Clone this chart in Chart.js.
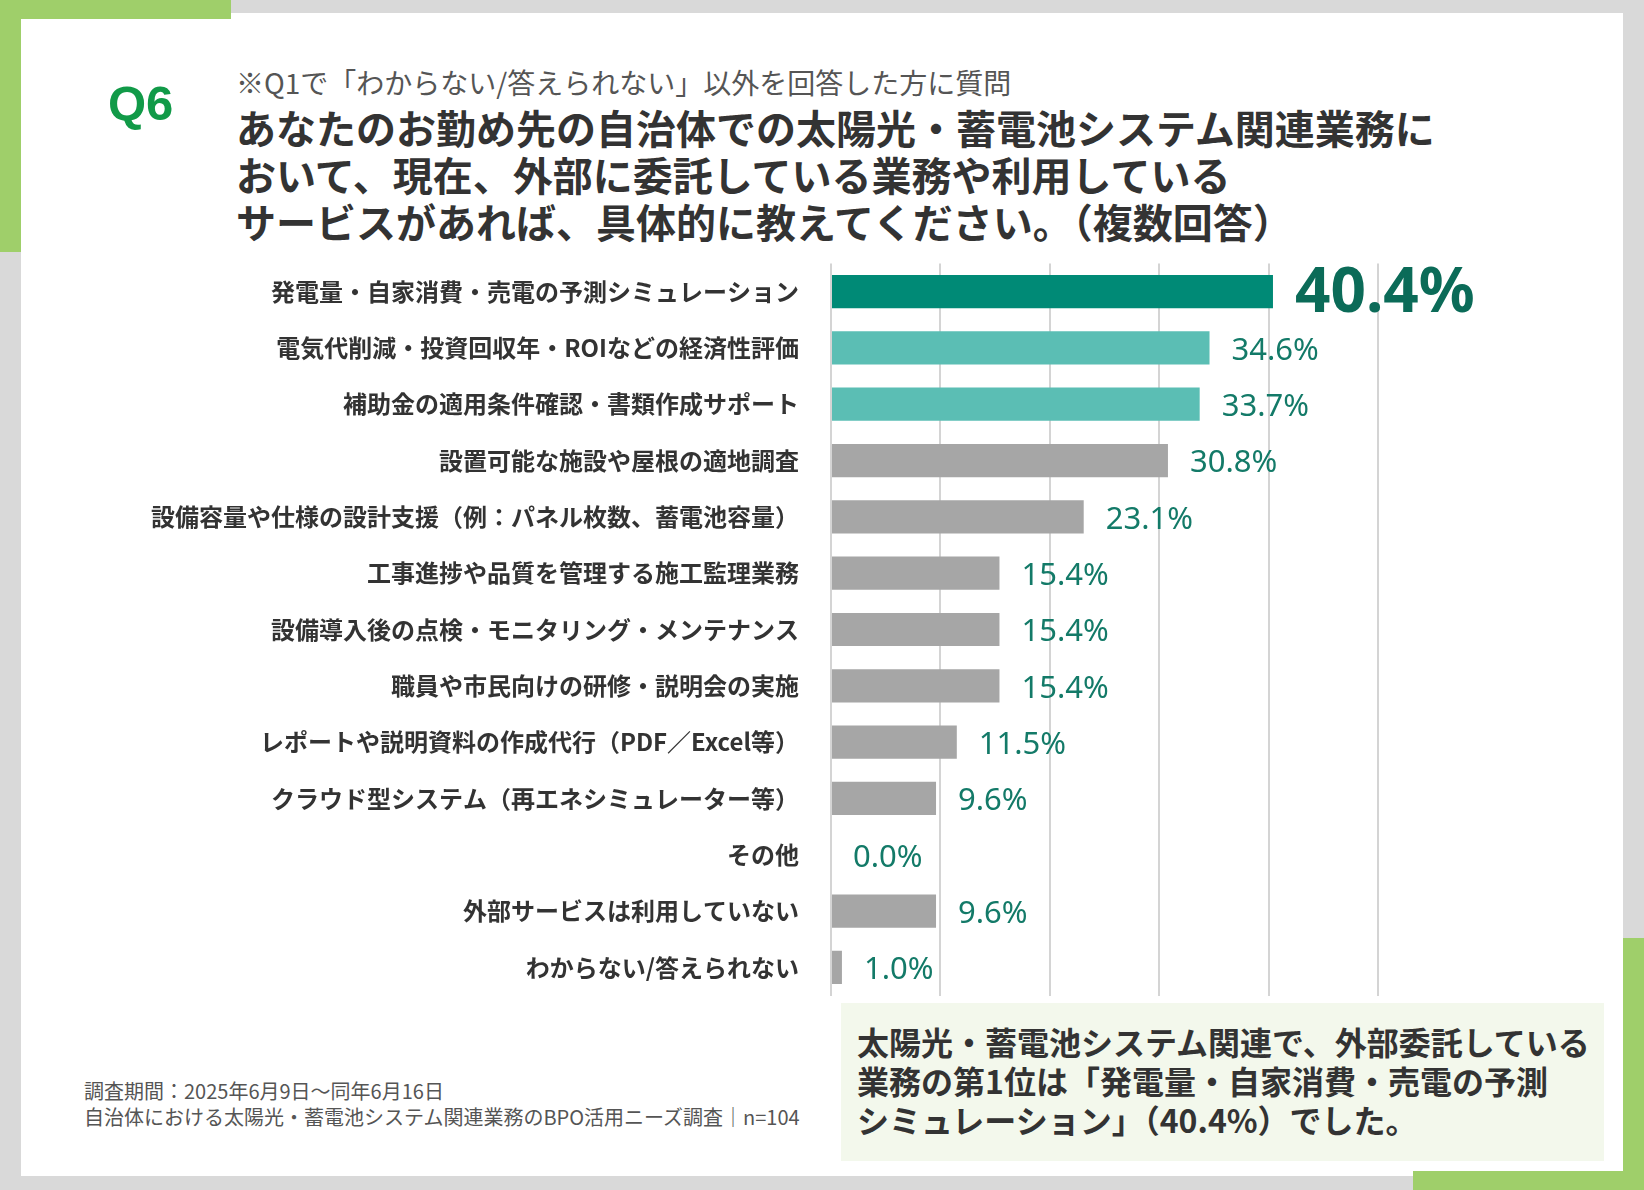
<!DOCTYPE html>
<html><head><meta charset="utf-8">
<script src="https://cdn.jsdelivr.net/npm/chart.js@4.4.0/dist/chart.umd.min.js"></script>
<style>
body{margin:0;width:1644px;height:1190px;background:#d9d9d9;position:relative;overflow:hidden;font-family:"Noto Sans CJK JP","Noto Sans",sans-serif;}
.abs{position:absolute;}
#card{left:21px;top:13px;width:1602px;height:1163px;background:#fff;}
.g{background:#9fcf6a;}
.t{color:#333;font-weight:bold;font-size:40px;line-height:47px;white-space:nowrap;}
</style></head><body>
<div id="card" class="abs"></div>
<div class="abs g" style="left:0;top:0;width:231px;height:19px"></div>
<div class="abs g" style="left:0;top:0;width:21px;height:252px"></div>
<div class="abs g" style="left:1623px;top:938px;width:21px;height:252px"></div>
<div class="abs g" style="left:1413px;top:1171px;width:231px;height:19px"></div>
<div class="abs" style="left:108px;top:75px;font:bold 49px 'Liberation Sans',Arial,sans-serif;color:#119a48">Q6</div>
<div class="abs" style="left:236px;top:62px;font-size:28px;color:#555;white-space:nowrap">※Q1で「わからない/答えられない」以外を回答した方に質問</div>
<div class="abs t" style="left:236px;top:104px">あなたのお勤め先の自治体での太陽光・蓄電池システム関連業務に<br>おいて、現在、外部に委託している業務や利用している<br>サービスがあれば、具体的に教えてください。（複数回答）</div>
<div class="abs" style="left:84px;top:1078px;font-size:20px;line-height:26px;color:#555;white-space:nowrap">調査期間：2025年6月9日～同年6月16日<br>自治体における太陽光・蓄電池システム関連業務のBPO活用ニーズ調査｜n=104</div>
<div class="abs" style="left:841px;top:1003px;width:763px;height:158px;background:#f3f8ec"></div>
<div class="abs" style="left:857px;top:1022px;font-size:32px;font-weight:bold;line-height:39px;color:#333;white-space:nowrap">太陽光・蓄電池システム関連で、外部委託している<br>業務の第1位は「発電量・自家消費・売電の予測<br>シミュレーション」（40.4%）でした。</div>
<div class="abs" style="left:0;top:225px;width:1644px;height:809px"><canvas id="c"></canvas></div>
<script>
const categories = [
  "発電量・自家消費・売電の予測シミュレーション",
  "電気代削減・投資回収年・ROIなどの経済性評価",
  "補助金の適用条件確認・書類作成サポート",
  "設置可能な施設や屋根の適地調査",
  "設備容量や仕様の設計支援（例：パネル枚数、蓄電池容量）",
  "工事進捗や品質を管理する施工監理業務",
  "設備導入後の点検・モニタリング・メンテナンス",
  "職員や市民向けの研修・説明会の実施",
  "レポートや説明資料の作成代行（PDF／Excel等）",
  "クラウド型システム（再エネシミュレーター等）",
  "その他",
  "外部サービスは利用していない",
  "わからない/答えられない"
];
const values = [40.4, 34.6, 33.7, 30.8, 23.1, 15.4, 15.4, 15.4, 11.5, 9.6, 0.0, 9.6, 1.0];
const barColors = values.map((v, i) => i == 0 ? "#008a76" : (i < 3 ? "#5bbeb4" : "#a6a6a6"));

const labelPlugin = {
  id: "vals",
  afterDatasetsDraw(chart) {
    const ctx = chart.ctx;
    const meta = chart.getDatasetMeta(0);
    ctx.save();
    ctx.textBaseline = "middle";
    meta.data.forEach((bar, i) => {
      if (i == 0) {
        ctx.font = "bold 62px 'Noto Sans', sans-serif";
        ctx.fillStyle = "#0b6b58";
      } else {
        ctx.font = "31px 'Noto Sans', sans-serif";
        ctx.fillStyle = "#137a68";
      }
      ctx.fillText(values[i].toFixed(1) + "%", bar.x + 22, bar.y + 3);
    });
    ctx.restore();
  }
};

new Chart(document.getElementById("c"), {
  type: "bar",
  data: {
    labels: categories,
    datasets: [{ data: values, backgroundColor: barColors, barPercentage: 0.59, categoryPercentage: 1 }]
  },
  options: {
    indexAxis: "y",
    responsive: true,
    maintainAspectRatio: false,
    animation: false,
    layout: { padding: { top: 10, bottom: 14, right: 266 } },
    plugins: { legend: { display: false }, tooltip: { enabled: false } },
    scales: {
      x: {
        min: 0, max: 50,
        ticks: { display: false, stepSize: 10 },
        grid: { color: "#d4d4d4", lineWidth: 2, drawTicks: false },
        border: { display: false }
      },
      y: {
        grid: { display: false },
        border: { display: false },
        ticks: { color: "#333", font: { family: "'Noto Sans CJK JP'", size: 24, weight: "bold" }, padding: 24 },
        afterFit(scale) { scale.width = 831; }
      }
    }
  },
  plugins: [labelPlugin]
});
</script>
</body></html>
